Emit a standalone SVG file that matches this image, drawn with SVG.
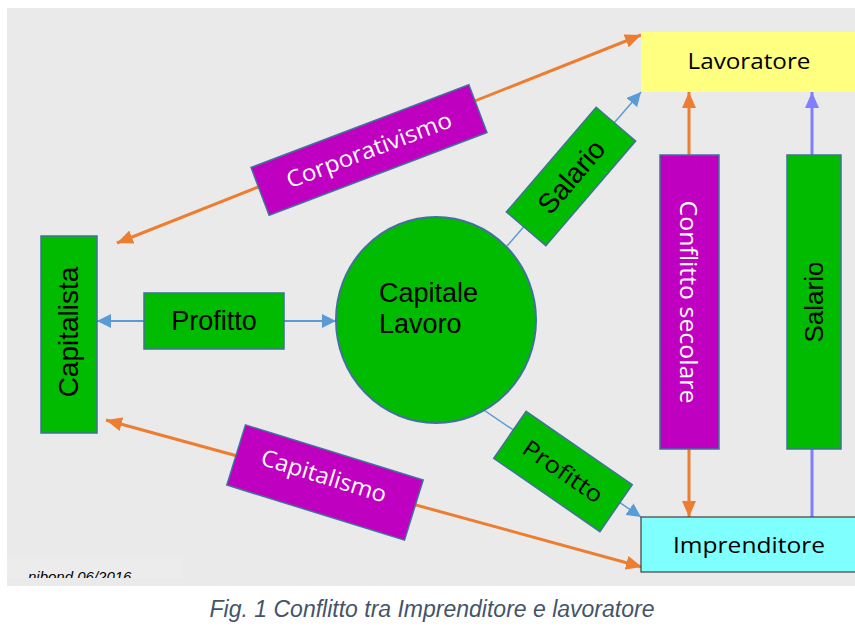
<svg xmlns="http://www.w3.org/2000/svg" width="855" height="639" viewBox="0 0 855 639">
  <defs>
    <style>
      .bg { fill: #eaeaea; }
      .green { fill: #00bb00; stroke: #41719c; stroke-width: 1.5; }
      .magenta { fill: #c000c0; stroke: #41719c; stroke-width: 1.5; }
      .arial { font-family: "Liberation Sans", Arial, sans-serif; fill: #000; }
      .calib { font-family: "Open Sans", "Noto Sans", sans-serif; }
      .white { fill: #fff; }
      .black { fill: #000; }
      .orange { stroke: #ed7d31; stroke-width: 3; fill: none; }
      .blue { stroke: #5b9bd5; stroke-width: 1.5; fill: none; }
      .blueh { stroke: #5b9bd5; stroke-width: 2; fill: none; }
      .violet { stroke: #8080ff; stroke-width: 3; fill: none; }
    </style>
    <marker id="ao" markerUnits="userSpaceOnUse" viewBox="0 0 16 14" refX="16" refY="7" markerWidth="16" markerHeight="14" orient="auto-start-reverse">
      <path d="M0,0 L16,7 L0,14 Z" fill="#ed7d31"/>
    </marker>
    <marker id="ab" markerUnits="userSpaceOnUse" viewBox="0 0 14 14" refX="14" refY="7" markerWidth="14" markerHeight="14" orient="auto-start-reverse">
      <path d="M0,0 L14,7 L0,14 Z" fill="#5b9bd5"/>
    </marker>
    <marker id="av" markerUnits="userSpaceOnUse" viewBox="0 0 16 14" refX="16" refY="7" markerWidth="16" markerHeight="14" orient="auto">
      <path d="M0,0 L16,7 L0,14 Z" fill="#8080ff"/>
    </marker>
    <clipPath id="signClip">
      <rect x="7" y="556" width="176" height="22"/>
    </clipPath>
  </defs>

  <!-- canvas -->
  <rect class="bg" x="7" y="8" width="848" height="578"/>
  <rect x="7" y="556" width="176" height="22" fill="#ececec"/>

  <!-- connectors -->
  <g id="connectors">
    <line class="orange" x1="117" y1="243" x2="641" y2="35" marker-start="url(#ao)" marker-end="url(#ao)"/>
    <line class="orange" x1="106" y1="420" x2="642" y2="567" marker-start="url(#ao)" marker-end="url(#ao)"/>
    <line class="orange" x1="689" y1="155" x2="689" y2="92" marker-end="url(#ao)"/>
    <line class="orange" x1="689" y1="449" x2="689" y2="517" marker-end="url(#ao)"/>
    <line class="violet" x1="812" y1="517" x2="812" y2="449"/>
    <line class="violet" x1="812" y1="155" x2="812" y2="92" marker-end="url(#av)"/>
    <line class="blueh" x1="144" y1="321" x2="97" y2="321" marker-end="url(#ab)"/>
    <line class="blueh" x1="284" y1="321" x2="336" y2="321" marker-end="url(#ab)"/>
    <line class="blue" x1="507" y1="246" x2="641" y2="92" marker-end="url(#ab)"/>
    <line class="blue" x1="475" y1="404" x2="641" y2="517" marker-end="url(#ab)"/>
  </g>

  <!-- nodes -->
  <g id="lavoratore">
    <rect x="641" y="32" width="214" height="60" fill="#ffff80"/>
    <text class="calib black" x="749" y="69" font-size="22" text-anchor="middle" textLength="123" lengthAdjust="spacingAndGlyphs">Lavoratore</text>
  </g>

  <g id="imprenditore">
    <rect x="641" y="517" width="216" height="55" fill="#80ffff" stroke="#404040" stroke-width="1.2"/>
    <text class="calib black" x="749" y="553" font-size="22" text-anchor="middle" textLength="152" lengthAdjust="spacingAndGlyphs">Imprenditore</text>
  </g>

  <g id="capitalista">
    <rect class="green" x="41" y="236" width="56" height="197"/>
    <text class="arial" transform="translate(78,332) rotate(-90)" font-size="28" text-anchor="middle">Capitalista</text>
  </g>

  <g id="profitto-h">
    <rect class="green" x="144" y="293" width="140" height="56"/>
    <text class="arial" x="214" y="330" font-size="27" text-anchor="middle">Profitto</text>
  </g>

  <g id="capitale-lavoro">
    <ellipse cx="436" cy="320" rx="100" ry="103" fill="#00bb00" stroke="#41719c" stroke-width="2"/>
    <text class="arial" x="379" y="302" font-size="27">Capitale</text>
    <text class="arial" x="379" y="333" font-size="27">Lavoro</text>
  </g>

  <g id="corporativismo" transform="translate(369,150) rotate(-20.8)">
    <rect class="magenta" x="-116.5" y="-25.5" width="233" height="51"/>
    <text class="calib white" x="0" y="8" font-size="23" text-anchor="middle" textLength="175" lengthAdjust="spacingAndGlyphs">Corporativismo</text>
  </g>

  <g id="salario-diag" transform="translate(571,176.5) rotate(-49.4)">
    <rect class="green" x="-69" y="-26" width="138" height="52"/>
    <text class="arial" x="0" y="10" font-size="28" text-anchor="middle">Salario</text>
  </g>

  <g id="profitto-diag" transform="translate(563,471.5) rotate(34.6)">
    <rect class="green" x="-64.5" y="-28.5" width="129" height="57"/>
    <text class="calib black" x="0" y="8" font-size="23" text-anchor="middle" textLength="92" lengthAdjust="spacingAndGlyphs">Profitto</text>
  </g>

  <g id="capitalismo" transform="translate(325,482.5) rotate(17.2)">
    <rect class="magenta" x="-93" y="-31.5" width="186" height="63"/>
    <text class="calib white" x="-3" y="2" font-size="23" text-anchor="middle" textLength="130" lengthAdjust="spacingAndGlyphs">Capitalismo</text>
  </g>

  <g id="conflitto-secolare">
    <rect class="magenta" x="660" y="155" width="59" height="294"/>
    <text class="calib white" transform="translate(680,302) rotate(90)" font-size="24" text-anchor="middle" textLength="203" lengthAdjust="spacingAndGlyphs">Conflitto secolare</text>
  </g>

  <g id="salario-v">
    <rect class="green" x="787" y="155" width="54" height="294"/>
    <text class="arial" transform="translate(823,302) rotate(-90)" font-size="26" text-anchor="middle">Salario</text>
  </g>

  <!-- signature, partly hidden by the lower edge -->
  <text x="28" y="582" clip-path="url(#signClip)" font-family="'Liberation Sans', Arial, sans-serif" font-style="italic" font-size="15" fill="#000">nibond 06/2016</text>

  <!-- caption -->
  <text x="432" y="617" font-family="'Liberation Sans', Arial, sans-serif" font-style="italic" font-size="23" fill="#44546a" text-anchor="middle">Fig. 1 Conflitto tra Imprenditore e lavoratore</text>
</svg>
